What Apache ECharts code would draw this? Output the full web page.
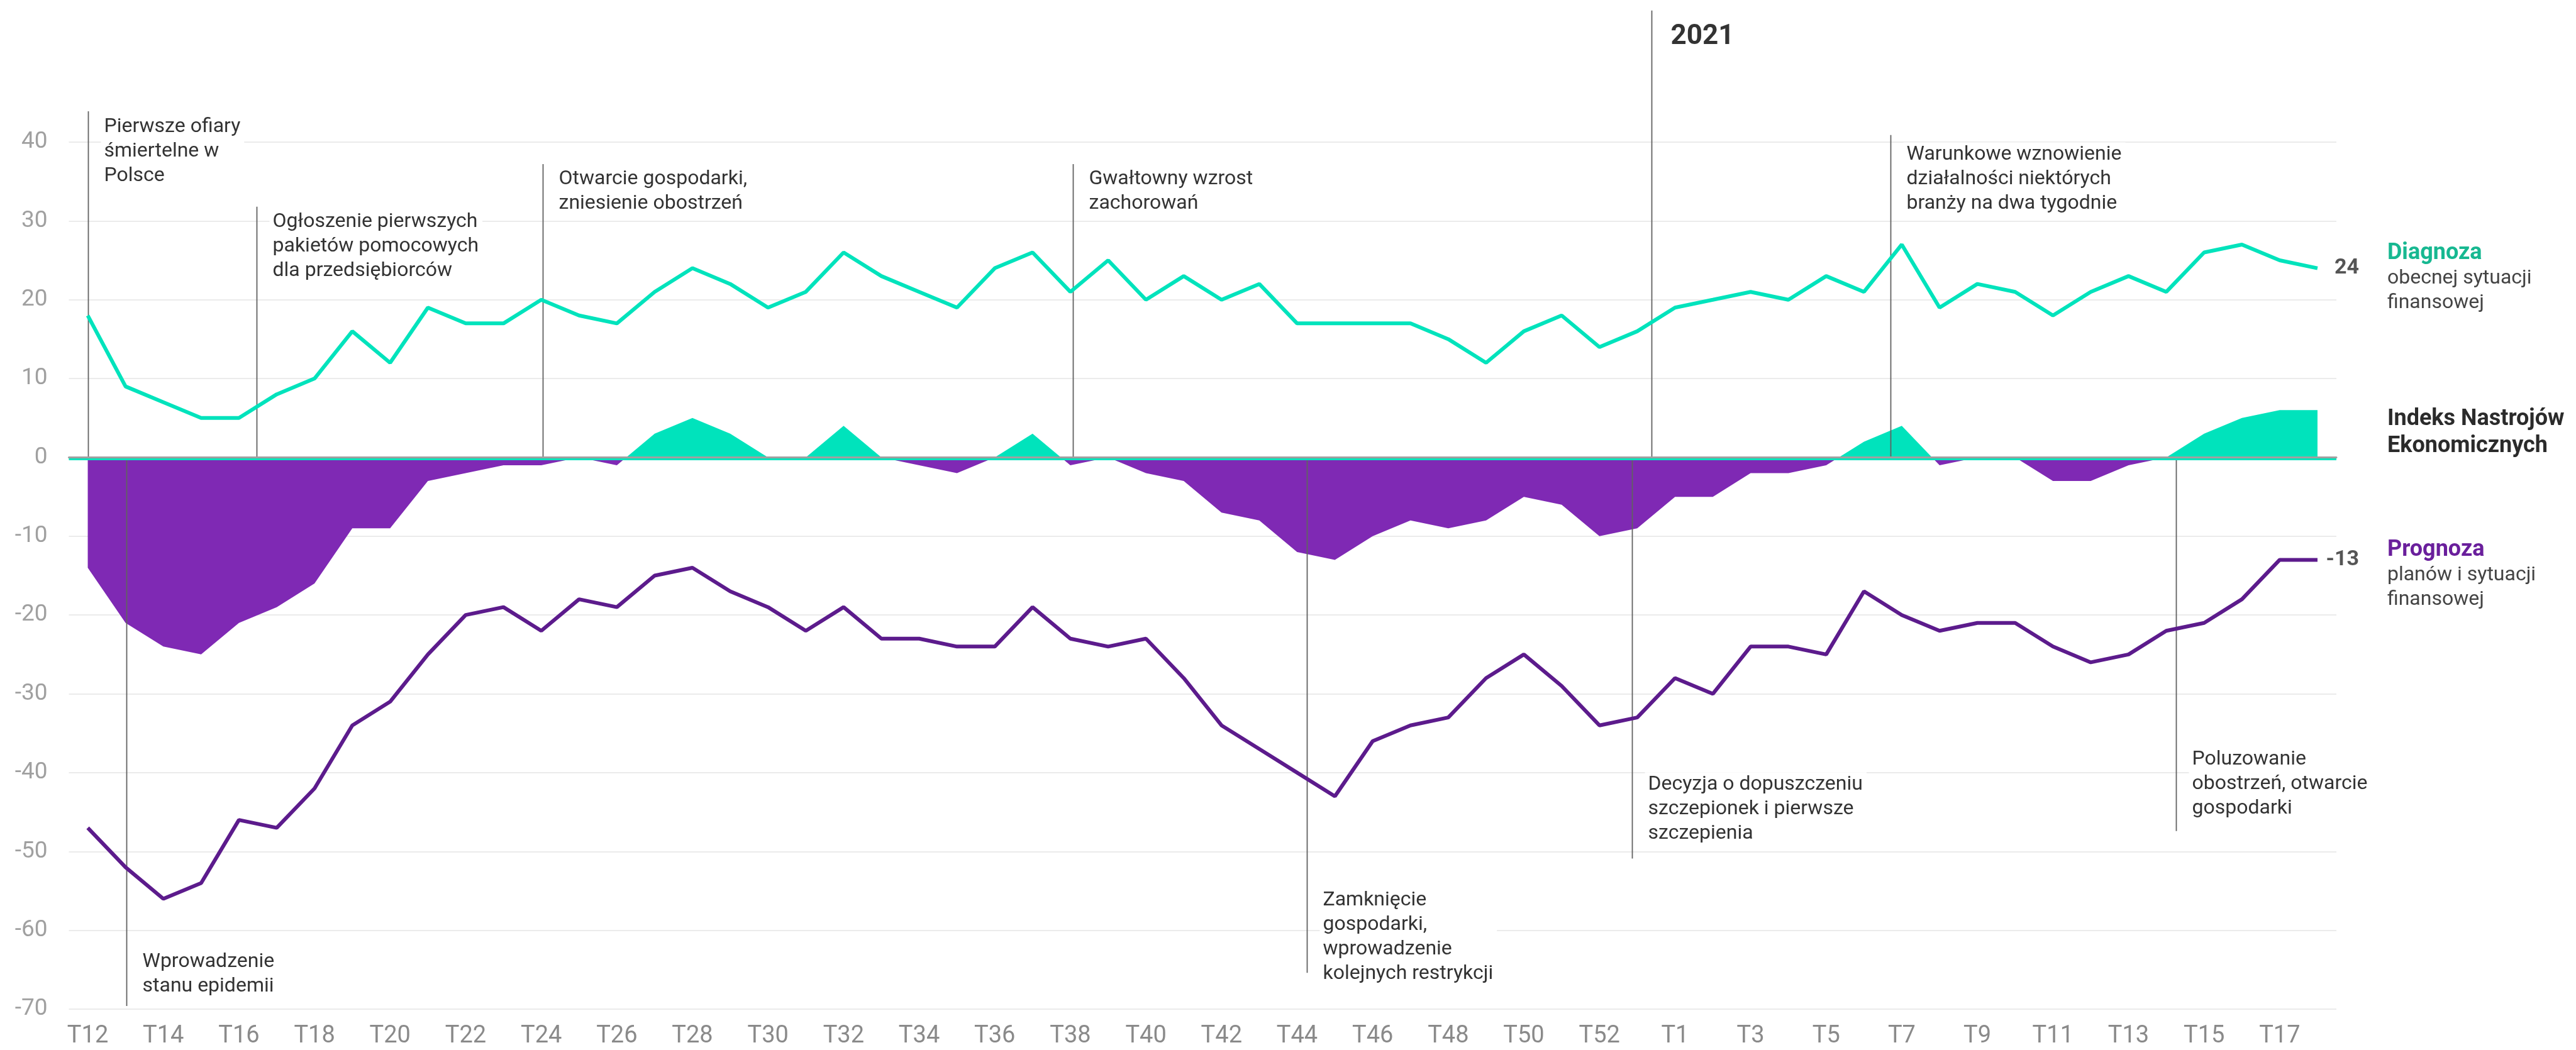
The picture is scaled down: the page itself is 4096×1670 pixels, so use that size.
<!DOCTYPE html>
<html>
<head>
<meta charset="utf-8">
<script src="https://cdn.jsdelivr.net/npm/echarts@6/dist/echarts.min.js"></script>
<style>
html, body { margin: 0; padding: 0; background: #fff; }
#chart { width: 4096px; height: 1670px; }
</style>
</head>
<body>
<div id="chart"></div>
<script>
// tygodnie 2020 (T12-T53) i 2021 (T1-T18)
var weeks = ['T12','T13','T14','T15','T16','T17','T18','T19','T20','T21','T22','T23','T24','T25',
    'T26','T27','T28','T29','T30','T31','T32','T33','T34','T35','T36','T37','T38','T39','T40',
    'T41','T42','T43','T44','T45','T46','T47','T48','T49','T50','T51','T52','T53',
    'T1','T2','T3','T4','T5','T6','T7','T8','T9','T10','T11','T12','T13','T14','T15','T16','T17','T18'];

var diagnoza = [18, 9, 7, 5, 5, 8, 10, 16, 12, 19, 17, 17, 20, 18, 17, 21, 24, 22, 19, 21, 26,
    23, 21, 19, 24, 26, 21, 25, 20, 23, 20, 22, 17, 17, 17, 17, 15, 12, 16, 18, 14, 16,
    19, 20, 21, 20, 23, 21, 27, 19, 22, 21, 18, 21, 23, 21, 26, 27, 25, 24];

var prognoza = [-47, -52, -56, -54, -46, -47, -42, -34, -31, -25, -20, -19, -22, -18, -19, -15,
    -14, -17, -19, -22, -19, -23, -23, -24, -24, -19, -23, -24, -23, -28, -34, -37, -40, -43,
    -36, -34, -33, -28, -25, -29, -34, -33,
    -28, -30, -24, -24, -25, -17, -20, -22, -21, -21, -24, -26, -25, -22, -21, -18, -13, -13];

var indeks = [-14, -21, -24, -25, -21, -19, -16, -9, -9, -3, -2, -1, -1, 0, -1, 3, 5, 3, 0, 0,
    4, 0, -1, -2, 0, 3, -1, 0, -2, -3, -7, -8, -12, -13, -10, -8, -9, -8, -5, -6, -10, -9,
    -5, -5, -2, -2, -1, 2, 4, -1, 0, 0, -3, -3, -1, 0, 3, 5, 6, 6];

var yMin = -70, yMax = 40, yStep = 10;

// wydarzenia: pozycja na osi (indeks tygodnia), zakres linii i srodek pierwszego wiersza (w jednostkach osi Y)
var notes = [
    {pos: 0, from: 43.9, to: 0, at: 41.9, lines: ['Pierwsze ofiary', 'śmiertelne w', 'Polsce']},
    {pos: 1.03, from: 0, to: -69.6, at: -64.0, lines: ['Wprowadzenie', 'stanu epidemii']},
    {pos: 4.47, from: 31.8, to: 0, at: 29.9, lines: ['Ogłoszenie pierwszych', 'pakietów pomocowych', 'dla przedsiębiorców']},
    {pos: 12.04, from: 37.2, to: 0, at: 35.3, lines: ['Otwarcie gospodarki,', 'zniesienie obostrzeń']},
    {pos: 26.07, from: 37.2, to: 0, at: 35.3, lines: ['Gwałtowny wzrost', 'zachorowań']},
    {pos: 32.25, from: 0, to: -65.4, at: -56.2, lines: ['Zamknięcie', 'gospodarki,', 'wprowadzenie', 'kolejnych restrykcji']},
    {pos: 40.86, from: 0, to: -50.9, at: -41.5, lines: ['Decyzja o dopuszczeniu', 'szczepionek i pierwsze', 'szczepienia']},
    {pos: 47.7, from: 40.9, to: 0, at: 38.4, lines: ['Warunkowe wznowienie', 'działalności niektórych', 'branży na dwa tygodnie']},
    {pos: 55.26, from: 0, to: -47.4, at: -38.3, lines: ['Poluzowanie', 'obostrzeń, otwarcie', 'gospodarki']}
];

var TEAL = '#00e3bc';
var PURPLE_AREA = '#7f29b4';
var PURPLE_LINE = '#5c1b8c';
var FONT = 'Roboto';

var chart = echarts.init(document.getElementById('chart'));

chart.setOption({
    animation: false,
    textStyle: {fontFamily: FONT},
    grid: {left: 109.5, right: 381, top: 226, bottom: 65},
    xAxis: [{
        type: 'category',
        data: weeks,
        boundaryGap: true,
        axisLine: {show: false, onZero: false},
        axisTick: {show: false},
        axisLabel: {interval: 1, color: '#8a8a8a', fontSize: 38, margin: 24, fontFamily: FONT},
        splitLine: {show: false}
    }, {
        type: 'category',
        data: weeks,
        boundaryGap: true,
        position: 'top',
        z: 3,
        axisLine: {show: true, onZero: true, lineStyle: {color: '#a0a0a0', width: 3}},
        axisTick: {show: false},
        axisLabel: {show: false},
        splitLine: {show: false}
    }],
    yAxis: {
        type: 'value',
        min: yMin,
        max: yMax,
        interval: yStep,
        axisLine: {show: false},
        axisTick: {show: false},
        axisLabel: {color: '#a0a0a0', fontSize: 37, margin: 34, fontFamily: FONT},
        splitLine: {lineStyle: {color: '#ebebeb', width: 2}}
    },
    series: [{
        name: 'Indeks Nastrojów Ekonomicznych',
        type: 'line',
        data: indeks,
        z: 1,
        symbol: 'none',
        lineStyle: {width: 0},
        areaStyle: {opacity: 1, color: PURPLE_AREA},
        emphasis: {disabled: true},
        markLine: {
            silent: true,
            symbol: 'none',
            label: {show: false},
            lineStyle: {color: TEAL, width: 3, type: 'solid'},
            data: [{yAxis: -0.22}]
        }
    }, {
        name: 'Diagnoza',
        type: 'line',
        data: diagnoza,
        z: 5,
        symbol: 'none',
        lineStyle: {color: TEAL, width: 6},
        itemStyle: {color: TEAL},
        emphasis: {disabled: true}
    }, {
        name: 'Prognoza',
        type: 'line',
        data: prognoza,
        z: 5,
        symbol: 'none',
        lineStyle: {color: PURPLE_LINE, width: 6},
        itemStyle: {color: PURPLE_LINE},
        emphasis: {disabled: true}
    }]
});

function px(pos) {
    var i = Math.floor(pos), f = pos - i;
    var a = chart.convertToPixel({xAxisIndex: 0}, i);
    var b = chart.convertToPixel({xAxisIndex: 0}, i + 1);
    return a + (b - a) * f;
}

function py(v) {
    return chart.convertToPixel({yAxisIndex: 0}, v);
}

function label(x, y, text, size, weight, color, align) {
    return {
        type: 'text', z: 10, silent: true, x: x, y: y,
        style: {
            text: text, fontFamily: FONT, fontSize: size, fontWeight: weight || 'normal',
            fill: color || '#333', align: align || 'left', verticalAlign: 'middle'
        }
    };
}

// obszar indeksu: powyzej zera turkus, ponizej fiolet (ostry przeskok na zerze)
var yTop = py(yMax), yBot = py(yMin);
var zeroAt = (py(0) - yTop) / (yBot - yTop);
var areaFill = new echarts.graphic.LinearGradient(0, yTop, 0, yBot, [
    {offset: 0, color: TEAL},
    {offset: zeroAt, color: TEAL},
    {offset: zeroAt, color: PURPLE_AREA},
    {offset: 1, color: PURPLE_AREA}
], true);

var LH = 39, FS = 32;
var g = [];

notes.forEach(function (n) {
    var x = Math.round(px(n.pos)) + 0.5;
    g.push({
        type: 'line', z: 3, silent: true,
        shape: {x1: x, y1: py(n.from), x2: x, y2: py(n.to)},
        style: {stroke: '#626262', lineWidth: 1.8}
    });
    g.push({
        type: 'text', z: 10, silent: true,
        x: x + 20, y: py(n.at) - LH / 2,
        style: {
            text: n.lines.join('\n'), fontFamily: FONT, fontSize: FS, fill: '#333',
            lineHeight: LH, align: 'left', verticalAlign: 'top',
            backgroundColor: '#fff', padding: [0, 6, 0, 5]
        }
    });
});

// granica roku
var x21 = Math.round(px(41.38)) + 0.5;
g.push({
    type: 'line', z: 3, silent: true,
    shape: {x1: x21, y1: py(56.7), x2: x21, y2: py(0)},
    style: {stroke: '#626262', lineWidth: 1.8}
});
g.push(label(x21 + 30, py(53.3), '2021', 44, 'bold', '#333'));

// wartosci koncowe i opisy serii
var last = weeks.length - 1;
var xEnd = px(last);
g.push(label(xEnd + 66, py(diagnoza[last]), String(diagnoza[last]), 34, 'bold', '#555', 'right'));
g.push(label(xEnd + 66, py(prognoza[last]), String(prognoza[last]), 34, 'bold', '#555', 'right'));

var xl = xEnd + 111;
var yd = py(25.9);
g.push(label(xl, yd, 'Diagnoza', 36, 'bold', '#17b891'));
g.push(label(xl, yd + 40, 'obecnej sytuacji', FS, 'normal', '#444'));
g.push(label(xl, yd + 79, 'finansowej', FS, 'normal', '#444'));

var yi = py(4.83);
g.push(label(xl, yi, 'Indeks Nastrojów', 36, 'bold', '#2b2b2b'));
g.push(label(xl, yi + 43, 'Ekonomicznych', 36, 'bold', '#2b2b2b'));

var yp = py(-11.76);
g.push(label(xl, yp, 'Prognoza', 36, 'bold', '#6a1f9c'));
g.push(label(xl, yp + 40, 'planów i sytuacji', FS, 'normal', '#444'));
g.push(label(xl, yp + 79, 'finansowej', FS, 'normal', '#444'));

chart.setOption({
    series: [{areaStyle: {opacity: 1, color: areaFill}}],
    graphic: g
});
</script>
</body>
</html>
